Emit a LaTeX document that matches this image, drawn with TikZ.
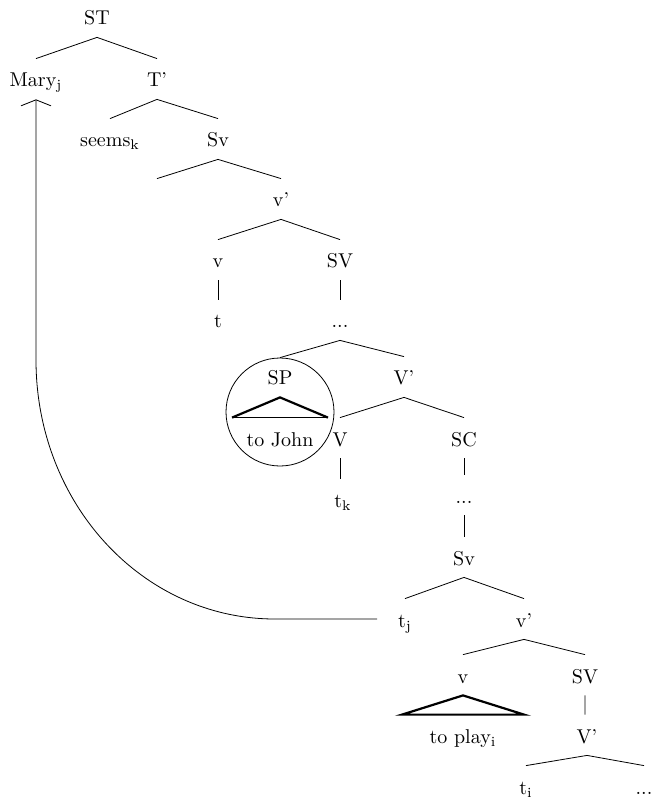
\documentclass[tikz,border=0pt]{standalone}
\usetikzlibrary{arrows.meta}
\tikzset{lbl/.style={anchor=base, inner ysep=4pt, text height=10pt, text depth=2pt},
  tri/.style={line width=1.1pt}}
\begin{document}
\begin{tikzpicture}[x=0.5pt,y=-0.5pt]
      \useasboundingbox (0,0) rectangle (654,801);
      \node[lbl] (ST) at (97,25) {ST};
      \node[lbl] (Mary) at (36,87) {Mary\textsubscript{j}};
      \node[lbl] (Tb) at (157,87) {T'};
      \node[lbl] (seems) at (110,147) {seems\textsubscript{k}};
      \node[lbl] (Sv) at (218,147) {Sv};
      \node[lbl] (spec) at (157,207) {};
      \node[lbl] (vb) at (281,207) {v'};
      \node[lbl] (v) at (218,268) {v};
      \node[lbl] (SV) at (340,268) {SV};
      \node[lbl] (t) at (218,328) {t};
      \node[lbl] (dotsA) at (340,328) {...};
      \node[draw, circle, minimum size=54pt, inner sep=0pt] (SPc) at (280,412) {};
      \node[lbl] (SP) at (280,385) {SP};
      \node[lbl] (John) at (280,446) {to John};
      \node[lbl] (Vb) at (404,385) {V'};
      \node[lbl] (V) at (340,446) {V};
      \node[lbl] (SC) at (464,446) {SC};
      \node[lbl] (tk) at (343,507) {t\textsubscript{k}};
      \node[lbl] (dotsB) at (464,503) {...};
      \node[lbl] (Sv2) at (464,565) {Sv};
      \node[lbl] (tj) at (405,627) {t\textsubscript{j}};
      \node[lbl] (vb2) at (524,627) {v'};
      \node[lbl] (v2) at (463,683) {v};
      \node[lbl] (SV2) at (585,683) {SV};
      \node[lbl] (play) at (463,743) {to play\textsubscript{i}};
      \node[lbl] (Vb2) at (587,743) {V'};
      \node[lbl] (ti) at (526,794) {t\textsubscript{i}};
      \node[lbl] (dotsC) at (644,794) {...};
      \draw (Mary.north)--(ST.south)--(Tb.north) (seems.north)--(Tb.south)--(Sv.north);
      \draw (spec.north)--(Sv.south)--(vb.north) (v.north)--(vb.south)--(SV.north);
      \draw (v.south)--(v.south|-t.north) (SV.south)--(SV.south|-dotsA.north);
      \draw (SPc.north)--(dotsA.south)--(Vb.north) (V.north)--(Vb.south)--(SC.north);
      \draw (V.south)--(V.south|-tk.north) (SC.south)--(SC.south|-dotsB.north)
        (dotsB.south)--(dotsB.south|-Sv2.north);
      \draw (tj.north)--(Sv2.south)--(vb2.north) (v2.north)--(vb2.south)--(SV2.north);
      \draw (SV2.south)--(SV2.south|-Vb2.north) (ti.north)--(Vb2.south)--(dotsC.north);
      \draw[tri] ([xshift=-24pt]John.north)--(SP.south)--([xshift=24pt]John.north);
      \draw ([xshift=-24pt]John.north)--([xshift=24pt]John.north);
      \draw[tri] ([xshift=-30.5pt]play.north)--(v2.south)--([xshift=30.5pt]play.north)--cycle;
      \draw[-{Straight Barb[length=3pt,width=15pt]}, shorten <=7pt] (tj.west) -- (275,619)
        .. controls (142,619) and (36,503) .. (36,360) -- (Mary.south);
    \end{tikzpicture}
\end{document}
